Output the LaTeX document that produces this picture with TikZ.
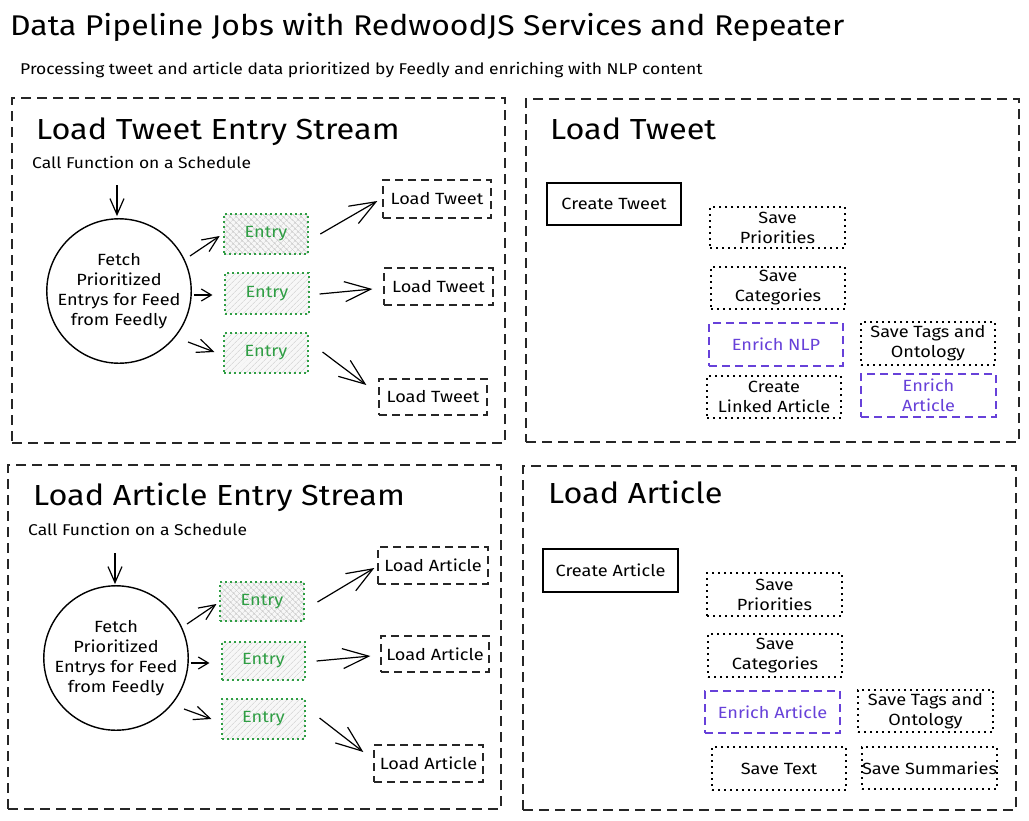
\documentclass[tikz,border=0pt]{standalone}
\usepackage{fontspec}
\setmainfont{Fira Sans}[FakeStretch=1.12]
\usetikzlibrary{arrows.meta,patterns.meta}
\definecolor{egreen}{HTML}{2F9E44}
\definecolor{eviolet}{HTML}{6741D9}
\begin{document}
\begin{tikzpicture}[x=1pt,y=-1pt,
  sz/.style 2 args={minimum width=#1pt, minimum height=#2pt, inner sep=0pt},
  panel/.style={draw=black!85, line width=1.3pt, dash pattern=on 10pt off 6pt, inner sep=0pt},
  ttl/.style={anchor=base west, inner sep=0pt, font=\fontsize{28.5}{34}\selectfont},
  ptitle/.style={anchor=base west, inner sep=0pt, font=\fontsize{29}{34}\selectfont},
  note/.style={anchor=base west, inner sep=0pt, font=\fontsize{15.6}{18}\selectfont},
  txt/.style={font=\fontsize{16.2}{20}\selectfont, align=center},
  circ/.style={circle, draw, line width=1.4pt, minimum size=142pt, inner sep=0pt, txt},
  entry/.style={draw=egreen, line width=1.1pt, dash pattern=on 2pt off 3pt, text=egreen, txt,
     preaction={fill=gray!6}, pattern={Lines[angle=45,distance=4pt,line width=0.6pt]}, pattern color=gray!40},
  entryx/.style={entry, pattern={Hatch[angle=45,distance=4pt,line width=0.6pt]}},
  lbox/.style={draw=black!85, line width=1.3pt, dash pattern=on 8pt off 5pt, txt},
  solid box/.style={draw, line width=1.3pt, txt},
  dbox/.style={draw, line width=1.3pt, dash pattern=on 2pt off 4pt, txt},
  vbox/.style={draw=eviolet, line width=2pt, dash pattern=on 8pt off 5pt, text=eviolet, txt},
  arrS/.style={line width=1.2pt, -{Straight Barb[length=10pt,width=12pt,line width=1.2pt]}},
  arrM/.style={line width=1.2pt, -{Straight Barb[length=16pt,width=14pt,line width=1.2pt]}},
  arrL/.style={line width=1.2pt, -{Straight Barb[length=26pt,width=20pt,line width=1.2pt]}},
]
\useasboundingbox (0,0) rectangle (1029,820);
\fill[white] (0,0) rectangle (1029,820);

% titles
\node[ttl] (title) at (10,35) {Data Pipeline Jobs with RedwoodJS Services and Repeater};
\node[note] (sub) at (20,74) {Processing tweet and article data prioritized by Feedly and enriching with NLP content};

% panels
\node[panel, sz={493}{345}] (p1) at (258.5,270.5) {};
\node[panel, sz={493}{343}] (p2) at (772.5,270.5) {};
\node[panel, sz={493}{344}] (p3) at (254.5,637) {};
\node[panel, sz={493}{344}] (p4) at (769.5,638) {};

% ---------- Load Tweet Entry Stream ----------
\node[ptitle] (t1) at (36,139) {Load Tweet Entry Stream};
\node[note] (cf1) at (32,168) {Call Function on a Schedule};
\coordinate (s1) at (117,185);
\node[circ] (c1) at (119,291) {Fetch\\Prioritized\\Entrys for Feed\\from Feedly};
\node[entryx, sz={84}{40}] (e1) at (266,234) {Entry};
\node[entry, sz={84}{41}] (e2) at (267,293.5) {Entry};
\node[entry, sz={84}{40}] (e3) at (266,353) {Entry};
\node[lbox, sz={108}{38}] (lt1) at (437,199) {Load Tweet};
\node[lbox, sz={109}{37}] (lt2) at (438.5,286.5) {Load Tweet};
\node[lbox, sz={108}{36}] (lt3) at (433,397) {Load Tweet};

\draw[arrM] (s1) -- ([shift={(-2,-2)}]c1.north);
\draw[arrM] ([shift={(71,-35)}]c1.center) -- ([shift={(-4,2)}]e1.west);
\draw[arrS] ([shift={(2,4)}]c1.east) -- ([shift={(-12,1.5)}]e2.west);
\draw[arrM] ([shift={(69,51)}]c1.center) -- ([shift={(-9,-1)}]e3.west);
\draw[arrL] ([shift={(12,0)}]e1.east) -- ([shift={(-5,2)}]lt1.west);
\draw[arrL] ([shift={(10,0.5)}]e2.east) -- ([shift={(-11,2.5)}]lt2.west);
\draw[arrL] ([shift={(14,-1)}]e3.east) -- ([shift={(-12,-12)}]lt3.west);

% ---------- Load Article Entry Stream ----------
\node[ptitle] (t3) at (33,505) {Load Article Entry Stream};
\node[note] (cf3) at (28,535) {Call Function on a Schedule};
\coordinate (s3) at (115,553);
\node[circ] (c3) at (116,658) {Fetch\\Prioritized\\Entrys for Feed\\from Feedly};
\node[entryx, sz={84}{39}] (f1) at (262,601.5) {Entry};
\node[entry, sz={83}{38}] (f2) at (263.5,661) {Entry};
\node[entry, sz={83}{40}] (f3) at (263.5,719) {Entry};
\node[lbox, sz={110}{37}] (la1) at (433,565.5) {Load Article};
\node[lbox, sz={108}{36}] (la2) at (435,654) {Load Article};
\node[lbox, sz={109}{37}] (la3) at (428.5,763.5) {Load Article};

\draw[arrM] (s3) -- ([shift={(-1,-1)}]c3.north);
\draw[arrM] ([shift={(71,-34)}]c3.center) -- ([shift={(-3,2.5)}]f1.west);
\draw[arrS] ([shift={(2,5)}]c3.east) -- ([shift={(-12,2)}]f2.west);
\draw[arrM] ([shift={(68,51)}]c3.center) -- ([shift={(-10,0)}]f3.west);
\draw[arrL] ([shift={(13,0.5)}]f1.east) -- ([shift={(-3,2.5)}]la1.west);
\draw[arrL] ([shift={(11,0)}]f2.east) -- ([shift={(-10,2)}]la2.west);
\draw[arrL] ([shift={(14,-1)}]f3.east) -- ([shift={(-10,-11.5)}]la3.west);

% ---------- Load Tweet ----------
\node[ptitle] (t2) at (550,139) {Load Tweet};
\node[solid box, sz={134}{42}] (ct) at (614,204) {Create Tweet};
\node[dbox, sz={135}{41}] (sp1) at (777.5,227.5) {Save\\Priorities};
\node[dbox, sz={134}{42}] (sc1) at (778,288) {Save\\Categories};
\node[vbox, sz={134}{43}] (en1) at (776,344.5) {Enrich NLP};
\node[dbox, sz={134}{42}] (cla) at (774,397) {Create\\Linked Article};
\node[dbox, sz={134}{43}] (st1) at (928,343.5) {Save Tags and\\Ontology};
\node[vbox, sz={135}{43}] (ea1) at (928.5,395.5) {Enrich\\Article};

% ---------- Load Article ----------
\node[ptitle] (t4) at (548,503) {Load Article};
\node[solid box, sz={135}{43}] (ca) at (610.5,570.5) {Create Article};
\node[dbox, sz={135}{43}] (sp2) at (774.5,594.5) {Save\\Priorities};
\node[dbox, sz={134}{43}] (sc2) at (775,655.5) {Save\\Categories};
\node[vbox, sz={135}{42}] (ea2) at (772.5,712) {Enrich Article};
\node[dbox, sz={135}{42}] (st2) at (925.5,711) {Save Tags and\\Ontology};
\node[dbox, sz={134}{43}] (stx) at (779,768.5) {Save Text};
\node[dbox, sz={135}{42}] (ss) at (929.5,768) {Save Summaries};
\end{tikzpicture}
\end{document}
